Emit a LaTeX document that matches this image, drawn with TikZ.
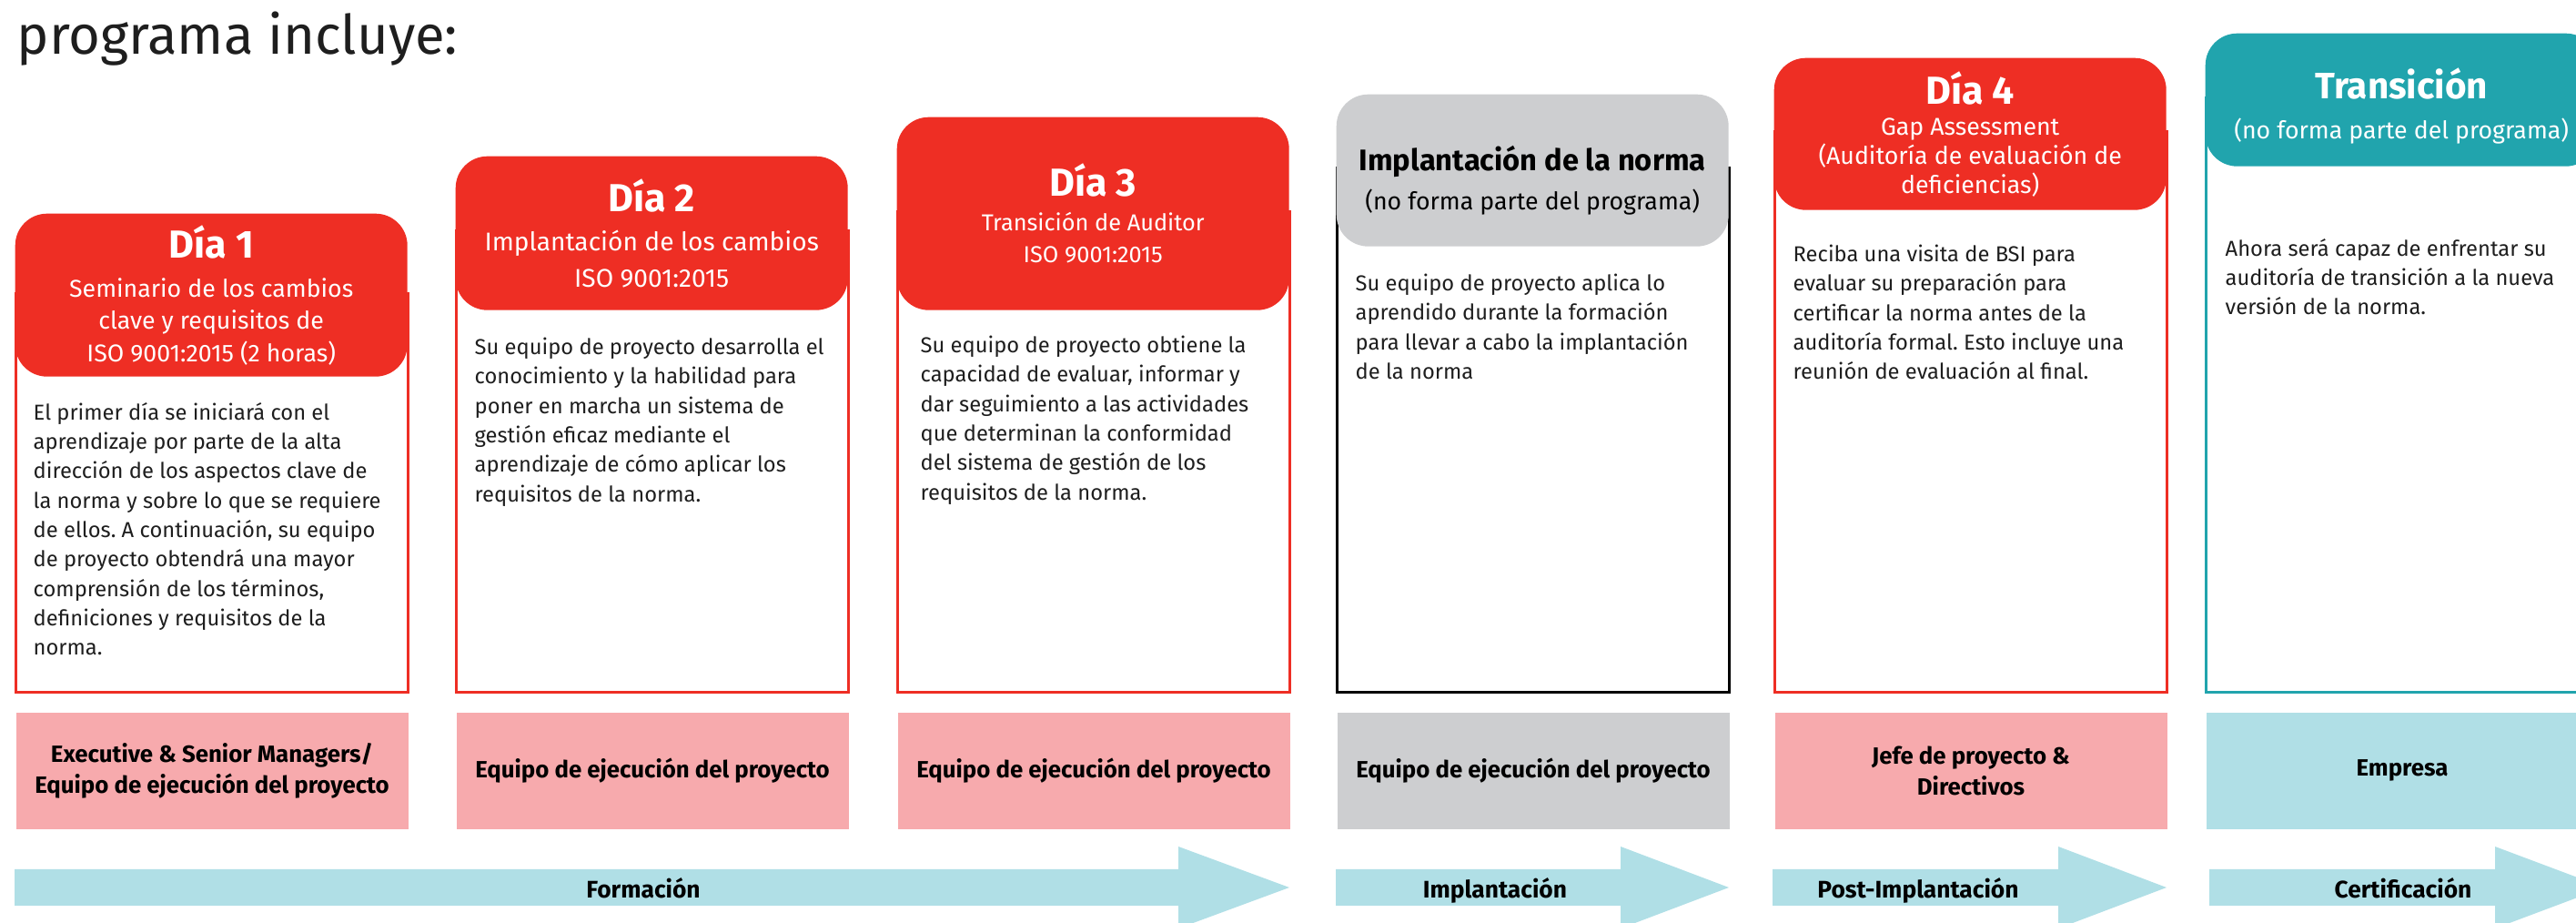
\documentclass[tikz,border=0pt]{standalone}
\usepackage{fontspec}
\setmainfont{Fira Sans}
\usetikzlibrary{positioning}
\frenchspacing

\definecolor{bsired}{RGB}{238,46,36}
\definecolor{rolepink}{RGB}{247,170,173}
\definecolor{normgrey}{RGB}{205,206,208}
\definecolor{bsiteal}{RGB}{33,164,173}
\definecolor{phaseblue}{RGB}{176,223,230}
\definecolor{bsiink}{RGB}{30,30,30}

\newcommand{\diafont}{\bfseries\fontsize{12.2}{14}\selectfont}

\tikzset{
  titletext/.style={anchor=base west, inner sep=0pt, text=bsiink, font=\fontsize{17}{19}\selectfont},
  hdr/.style={rounded corners=0.35cm, minimum width=4.31cm, anchor=north west, inner sep=0pt,
    align=center, text=white, font=\fontsize{7.6}{10}\selectfont},
  hdrtext/.style={inner sep=0pt, align=center, font=\fontsize{7.6}{10}\selectfont},
  frame/.style={draw=bsired, line width=0.03cm, minimum width=4.31cm, anchor=south west, inner sep=0pt},
  bodytext/.style={anchor=north west, align=left, inner sep=0pt, text=bsiink,
    font=\fontsize{6.75}{9.2}\selectfont},
  role/.style={fill=rolepink, minimum width=4.31cm, minimum height=1.28cm, anchor=north,
    inner sep=0pt, align=center, text=black, font=\bfseries\fontsize{7.35}{9.6}\selectfont},
  phase/.style={fill=phaseblue},
  phaselabel/.style={anchor=base, inner sep=0pt, text=black, font=\bfseries\fontsize{7.5}{9}\selectfont}
}

\begin{document}
\begin{tikzpicture}
  \useasboundingbox (0,0) rectangle (28.31,-10.14);
  \clip (0,0) rectangle (28.31,-10.14);

  \node[titletext] (titulo) at (0.18,-0.60) {programa incluye:};

  % Dia 1
  \node[frame, minimum height=4.38cm] (f1) at (0.16,-7.62) {};
  \node[hdr, fill=bsired, minimum height=1.79cm] (h1) at (0.16,-2.34)
    {{\diafont Día 1}\\[2.4pt]Seminario de los cambios\\clave y requisitos de\\ISO 9001:2015 (2 horas)};
  \node[bodytext] (t1) at ([xshift=0.20cm,yshift=-0.27cm]h1.south west)
    {El primer día se iniciará con el\\aprendizaje por parte de la alta\\dirección de los aspectos clave de\\la norma y sobre lo que se requiere\\de ellos. A continuación, su equipo\\de proyecto obtendrá una mayor\\comprensión de los términos,\\definiciones y requisitos de la\\norma.};
  \node[role, below=0.2cm of f1] (r1) {Executive \& Senior Managers/\\Equipo de ejecución del proyecto};

  % Dia 2
  \node[frame, minimum height=5.07cm] (f2) at (5.00,-7.62) {};
  \node[hdr, fill=bsired, minimum height=1.69cm, font=\fontsize{8}{11.4}\selectfont] (h2) at (5.00,-1.71)
    {{\diafont Día 2}\\[0.8pt]Implantación de los cambios\\ISO 9001:2015};
  \node[bodytext] (t2) at ([xshift=0.21cm,yshift=-0.29cm]h2.south west)
    {Su equipo de proyecto desarrolla el\\conocimiento y la habilidad para\\poner en marcha un sistema de\\gestión eficaz mediante el\\aprendizaje de cómo aplicar los\\requisitos de la norma.};
  \node[role, below=0.2cm of f2] (r2) {Equipo de ejecución del proyecto};

  % Dia 3
  \node[frame, minimum height=5.28cm] (f3) at (9.85,-7.62) {};
  \node[hdr, fill=bsired, minimum height=2.12cm, font=\fontsize{7.2}{10}\selectfont] (h3) at (9.85,-1.28)
    {{\diafont Día 3}\\[0.8pt]Transición de Auditor\\ISO 9001:2015};
  \node[bodytext] (t3) at ([xshift=0.26cm,yshift=-0.27cm]h3.south west)
    {Su equipo de proyecto obtiene la\\capacidad de evaluar, informar y\\dar seguimiento a las actividades\\que determinan la conformidad\\del sistema de gestión de los\\requisitos de la norma.};
  \node[role, below=0.2cm of f3] (r3) {Equipo de ejecución del proyecto};

  % Implantacion de la norma
  \node[frame, draw=black, minimum height=5.76cm] (f4) at (14.68,-7.62) {};
  \node[hdr, fill=normgrey, minimum height=1.67cm] (h4) at (14.68,-1.03) {};
  \node[hdrtext, text=black] (h4t) at ([yshift=-0.11cm]h4.center)
    {{\bfseries\fontsize{9.3}{11}\selectfont Implantación de la norma}\\[2.2pt](no forma parte del programa)};
  \node[bodytext] (t4) at ([xshift=0.21cm,yshift=-0.29cm]h4.south west)
    {Su equipo de proyecto aplica lo\\aprendido durante la formación\\para llevar a cabo la implantación\\de la norma};
  \node[role, fill=normgrey, below=0.2cm of f4] (r4) {Equipo de ejecución del proyecto};

  % Dia 4
  \node[frame, minimum height=6.16cm] (f5) at (19.49,-7.62) {};
  \node[hdr, fill=bsired, minimum height=1.67cm, font=\fontsize{7.6}{9.1}\selectfont] (h5) at (19.49,-0.63)
    {{\diafont Día 4}\\[0.6pt]Gap Assessment\\(Auditoría de evaluación de\\deficiencias)};
  \node[bodytext] (t5) at ([xshift=0.21cm,yshift=-0.37cm]h5.south west)
    {Reciba una visita de BSI para\\evaluar su preparación para\\certificar la norma antes de la\\auditoría formal. Esto incluye una\\reunión de evaluación al final.};
  \node[role, below=0.2cm of f5] (r5) {Jefe de proyecto \&\\Directivos};

  % Transicion
  \node[frame, draw=bsiteal, minimum height=6.53cm] (f6) at (24.23,-7.62) {};
  \node[hdr, fill=bsiteal, minimum height=1.46cm] (h6) at (24.23,-0.36) {};
  \node[hdrtext, text=white] (h6t) at ([yshift=-0.07cm]h6.center)
    {{\bfseries\fontsize{11.5}{13}\selectfont Transición}\\[2.4pt](no forma parte del programa)};
  \node[bodytext] (t6) at ([xshift=0.22cm,yshift=-0.78cm]h6.south west)
    {Ahora será capaz de enfrentar su\\auditoría de transición a la nueva\\versión de la norma.};
  \node[role, fill=phaseblue, below=0.2cm of f6] (r6) {Empresa};

  % fases
  \fill[phase] (0.16,-9.55) -- (12.95,-9.55) -- (12.95,-9.30) -- (14.17,-9.75)
    -- (12.95,-10.20) -- (12.95,-9.95) -- (0.16,-9.95) -- cycle;
  \node[phaselabel] (formacion) at (7.07,-9.86) {Formación};

  \fill[phase] (14.68,-9.55) -- (17.81,-9.55) -- (17.81,-9.30) -- (19.00,-9.75)
    -- (17.81,-10.20) -- (17.81,-9.95) -- (14.68,-9.95) -- cycle;
  \node[phaselabel] (implantacion) at (16.43,-9.86) {Implantación};

  \fill[phase] (19.48,-9.55) -- (22.62,-9.55) -- (22.62,-9.30) -- (23.81,-9.75)
    -- (22.62,-10.20) -- (22.62,-9.95) -- (19.48,-9.95) -- cycle;
  \node[phaselabel] (postimpl) at (21.08,-9.86) {Post-Implantación};

  \fill[phase] (24.28,-9.55) -- (27.42,-9.55) -- (27.42,-9.30) -- (28.62,-9.75)
    -- (27.42,-10.20) -- (27.42,-9.95) -- (24.28,-9.95) -- cycle;
  \node[phaselabel] (certificacion) at (26.41,-9.86) {Certificación};
\end{tikzpicture}
\end{document}
